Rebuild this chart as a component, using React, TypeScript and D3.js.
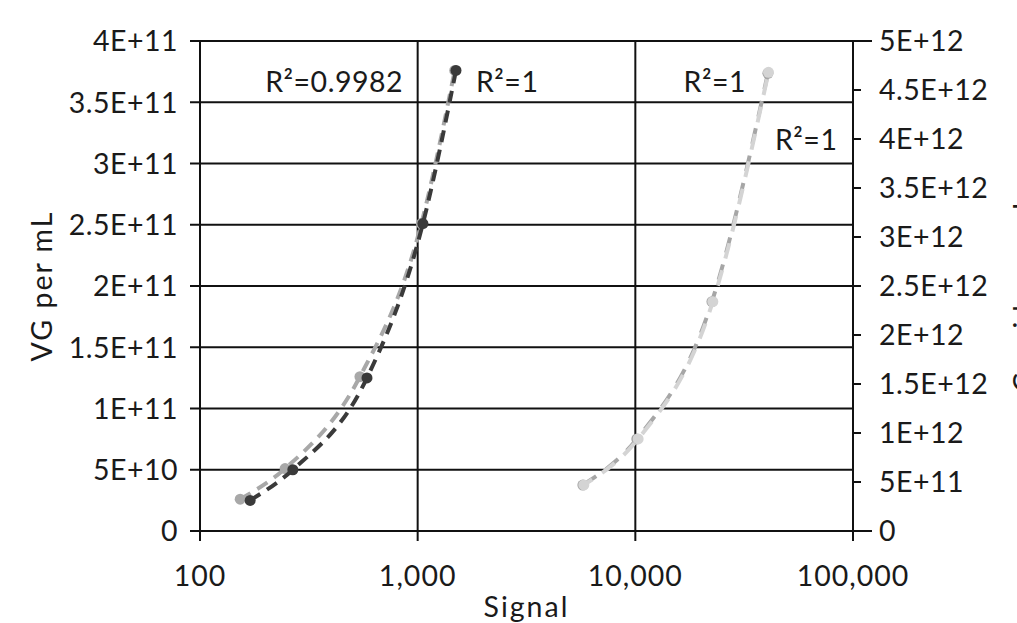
import { useEffect, useRef } from "react";
import * as d3 from "d3";

// signal (x, log) vs VG per mL, left axis
const darkSignal = [170, 267, 585, 1057, 1500];
const darkVg = [2.5e10, 5e10, 1.25e11, 2.51e11, 3.76e11];
const greySignal = [153, 246, 543, 1040, 1480];
const greyVg = [2.6e10, 5.1e10, 1.26e11, 2.51e11, 3.76e11];

// right axis series
const rightSignalA = [5740, 10160, 22490, 40650];
const rightVgA = [4.69e11, 9.39e11, 2.34e12, 4.67e12];
const rightSignalB = [5800, 10300, 22700, 40900];
const rightVgB = [4.7e11, 9.4e11, 2.34e12, 4.68e12];

const xTicks = [100, 1000, 10000, 100000];
const leftTicks = [0, 5e10, 1e11, 1.5e11, 2e11, 2.5e11, 3e11, 3.5e11, 4e11];
const leftTickLabels = ["0", "5E+10", "1E+11", "1.5E+11", "2E+11", "2.5E+11", "3E+11", "3.5E+11", "4E+11"];
const rightTicks = [0, 5e11, 1e12, 1.5e12, 2e12, 2.5e12, 3e12, 3.5e12, 4e12, 4.5e12, 5e12];
const rightTickLabels = ["0", "5E+11", "1E+12", "1.5E+12", "2E+12", "2.5E+12", "3E+12", "3.5E+12", "4E+12", "4.5E+12", "5E+12"];

const width = 1017;
const height = 623;
const font = "Lato, 'Noto Sans', sans-serif";
const fs = 28.5;

const App = () => {
  const ref = useRef<SVGSVGElement>(null);

  useEffect(() => {
    const svg = d3.select(ref.current);
    svg.selectAll("*").remove();

    const margin = { top: 41, right: 164, bottom: 92, left: 200 };
    const x0 = margin.left;
    const x1 = width - margin.right;
    const y0 = height - margin.bottom;
    const y1 = margin.top;

    const x = d3.scaleLog().domain([100, 100000]).range([x0, x1]);
    const yL = d3.scaleLinear().domain([0, 4e11]).range([y0, y1]);
    const yR = d3.scaleLinear().domain([0, 5e12]).range([y0, y1]);

    const g = svg.append("g");

    // gridlines
    g.selectAll(".hgrid")
      .data(leftTicks)
      .join("line")
      .attr("x1", x0 - 10)
      .attr("x2", (d) => (d === 0 || d === 4e11 ? x1 + 19 : x1))
      .attr("y1", (d) => yL(d))
      .attr("y2", (d) => yL(d))
      .attr("stroke", "#111")
      .attr("stroke-width", 2);

    g.selectAll(".vgrid")
      .data(xTicks)
      .join("line")
      .attr("x1", (d) => x(d))
      .attr("x2", (d) => x(d))
      .attr("y1", y1)
      .attr("y2", y0 + 10)
      .attr("stroke", "#111")
      .attr("stroke-width", 2);

    // right axis ticks
    g.selectAll(".rtick")
      .data(rightTicks)
      .join("line")
      .attr("x1", x1)
      .attr("x2", x1 + 8)
      .attr("y1", (d) => yR(d))
      .attr("y2", (d) => yR(d))
      .attr("stroke", "#111")
      .attr("stroke-width", 2);

    const txt = (sel: any) =>
      sel
        .attr("font-family", font)
        .attr("font-size", fs)
        .attr("letter-spacing", 0.5)
        .attr("fill", "#1a1a1a");

    // tick labels
    g.selectAll(".ltext")
      .data(leftTicks)
      .join("text")
      .attr("x", x0 - 22)
      .attr("y", (d) => yL(d))
      .attr("dy", "0.36em")
      .attr("text-anchor", "end")
      .call(txt)
      .text((d, i) => leftTickLabels[i]);

    g.selectAll(".rtext")
      .data(rightTicks)
      .join("text")
      .attr("x", x1 + 26)
      .attr("y", (d) => yR(d))
      .attr("dy", "0.36em")
      .call(txt)
      .text((d, i) => rightTickLabels[i]);

    g.selectAll(".xtext")
      .data(xTicks)
      .join("text")
      .attr("x", (d) => x(d))
      .attr("y", y0 + 55)
      .attr("text-anchor", "middle")
      .call(txt)
      .attr("letter-spacing", 1)
      .text((d) => d3.format(",")(d));

    // axis titles
    g.append("text")
      .attr("transform", `translate(52,${(y0 + y1) / 2}) rotate(-90)`)
      .attr("text-anchor", "middle")
      .call(txt)
      .attr("letter-spacing", 2)
      .text("VG per mL");

    g.append("text")
      .attr("x", (x0 + x1) / 2)
      .attr("y", 617)
      .attr("text-anchor", "middle")
      .call(txt)
      .attr("letter-spacing", 2)
      .text("Signal");

    // right title, mostly cut off by the frame
    g.append("text")
      .attr("transform", `translate(1034,392) rotate(-90)`)
      .call(txt)
      .text("Capsids per mL");

    const series = [
      { xs: greySignal, ys: greyVg, y: yL, color: "#a8a8a8", dash: "12,8", off: 0 },
      { xs: darkSignal, ys: darkVg, y: yL, color: "#3a3a3a", dash: "12,8", off: 0 },
      { xs: rightSignalA, ys: rightVgA, y: yR, color: "#a6a6a6", dash: "16,12", off: 0 },
      { xs: rightSignalB, ys: rightVgB, y: yR, color: "#d4d4d4", dash: "16,12", off: 6 },
    ];

    series.forEach((s) => {
      const pts = s.xs.map((v, i) => [v, s.ys[i]] as [number, number]);
      const line = d3
        .line<[number, number]>()
        .x((d) => x(d[0]))
        .y((d) => s.y(d[1]))
        .curve(d3.curveMonotoneX);

      g.append("path")
        .datum(pts)
        .attr("fill", "none")
        .attr("stroke", s.color)
        .attr("stroke-width", 4)
        .attr("stroke-dasharray", s.dash)
        .attr("stroke-dashoffset", s.off)
        .attr("d", line);

      g.selectAll(null)
        .data(pts)
        .join("circle")
        .attr("cx", (d) => x(d[0]))
        .attr("cy", (d) => s.y(d[1]))
        .attr("r", 5.5)
        .attr("fill", s.color);
    });

    // R² labels
    const labels = [
      { t: "R²=0.9982", x: 403, y: 82, anchor: "end" },
      { t: "R²=1", x: 476, y: 82, anchor: "start" },
      { t: "R²=1", x: 746, y: 82, anchor: "end" },
      { t: "R²=1", x: 775, y: 140, anchor: "start" },
    ];
    g.selectAll(".r2")
      .data(labels)
      .join("text")
      .attr("x", (d) => d.x)
      .attr("y", (d) => d.y)
      .attr("dy", "0.36em")
      .attr("text-anchor", (d) => d.anchor)
      .call(txt)
      .text((d) => d.t);
  }, []);

  return (
    <svg
      ref={ref}
      width={width}
      height={height}
      style={{ position: "fixed", left: 0, top: 0, background: "#fff" }}
    ></svg>
  );
};

export default App;
